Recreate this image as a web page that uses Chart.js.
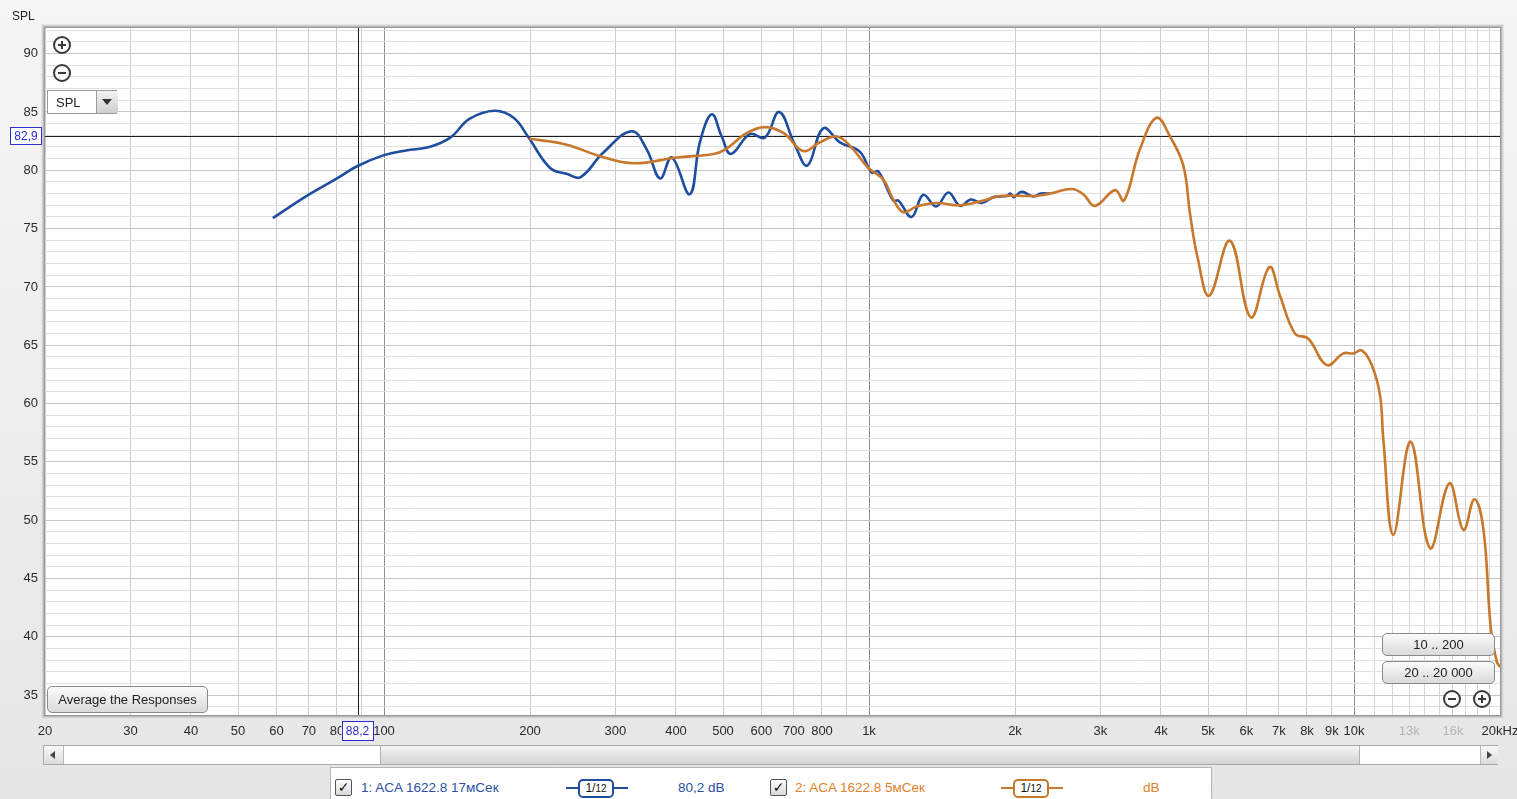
<!DOCTYPE html>
<html>
<head>
<meta charset="utf-8">
<script src="https://cdn.jsdelivr.net/npm/chart.js@4/dist/chart.umd.min.js"></script>
<style>
html,body{margin:0;padding:0;width:1517px;height:799px;overflow:hidden;background:linear-gradient(#f6f6f6,#e6e6e6);font-family:"Liberation Sans",Arial,sans-serif;}
#c{position:absolute;left:0;top:0;}
.abs{position:absolute;}
.rb{position:absolute;width:14px;height:14px;border:2px solid #3a3a3a;border-radius:50%;background:#fafafa;}
.rb .h{position:absolute;left:3px;top:6px;width:8px;height:2px;background:#3a3a3a;}
.rb .v{position:absolute;left:6px;top:3px;width:2px;height:8px;background:#3a3a3a;}
.btn{position:absolute;box-sizing:border-box;border:1px solid #8a8a8a;border-radius:5px;background:linear-gradient(#fbfbfb,#dadada);font-size:13px;color:#222;text-align:center;}
.cb{position:absolute;box-sizing:border-box;width:17px;height:17px;border:1px solid #555;border-radius:2px;background:linear-gradient(#fff,#d8d8d8);font-family:"DejaVu Sans";font-size:14px;font-weight:bold;line-height:15px;text-align:center;color:#111;}
.oct{position:absolute;height:18px;}
.oct .ln{position:absolute;top:8px;height:2px;}
.oct .bx{position:absolute;top:0;box-sizing:border-box;height:19px;border:2px solid;border-radius:5px;background:#fff;font-size:12px;line-height:15px;text-align:center;color:#111;}
.lg{position:absolute;top:780px;font-size:13.5px;}
</style>
</head>
<body>
<canvas id="c" width="1517" height="799"></canvas>

<div class="abs" style="left:12px;top:9px;font-size:12px;color:#222;">SPL</div>

<div class="rb" style="left:53px;top:36px"><i class="h"></i><i class="v"></i></div>
<div class="rb" style="left:53px;top:64px"><i class="h"></i></div>

<div class="abs" style="left:47px;top:90px;width:70px;height:24px;box-sizing:border-box;border:1px solid #9a9a9a;background:#fff;">
  <div class="abs" style="left:8px;top:4px;font-size:13px;color:#222;">SPL</div>
  <div class="abs" style="left:48px;top:0;width:21px;height:22px;background:linear-gradient(#f2f2f2,#cfcfcf);border-left:1px solid #9a9a9a;">
    <div class="abs" style="left:5px;top:8px;width:0;height:0;border-left:5px solid transparent;border-right:5px solid transparent;border-top:6px solid #333;"></div>
  </div>
</div>

<div class="btn" style="left:47px;top:686px;width:161px;height:27px;line-height:25px;">Average the Responses</div>
<div class="btn" style="left:1382px;top:633px;width:113px;height:23px;line-height:21px;">10 .. 200</div>
<div class="btn" style="left:1382px;top:661px;width:113px;height:23px;line-height:21px;">20 .. 20 000</div>
<div class="rb" style="left:1443px;top:690px"><i class="h"></i></div>
<div class="rb" style="left:1473px;top:690px"><i class="h"></i><i class="v"></i></div>

<!-- scrollbar -->
<div class="abs" style="left:43px;top:745px;width:1455px;height:20px;box-sizing:border-box;border:1px solid #a8a8a8;background:#fff;">
  <div class="abs" style="left:0;top:0;width:19px;height:18px;background:linear-gradient(#f8f8f8,#dcdcdc);border-right:1px solid #b8b8b8;">
    <div class="abs" style="left:6px;top:5px;width:0;height:0;border-top:4px solid transparent;border-bottom:4px solid transparent;border-right:5px solid #444;"></div>
  </div>
  <div class="abs" style="left:336px;top:0;width:978px;height:18px;background:linear-gradient(#f4f4f4,#d4d4d4);border-left:1px solid #b0b0b0;border-right:1px solid #b0b0b0;"></div>
  <div class="abs" style="left:1436px;top:0;width:17px;height:18px;background:linear-gradient(#f8f8f8,#dcdcdc);border-left:1px solid #b8b8b8;">
    <div class="abs" style="left:6px;top:5px;width:0;height:0;border-top:4px solid transparent;border-bottom:4px solid transparent;border-left:5px solid #444;"></div>
  </div>
</div>

<!-- legend panel -->
<div class="abs" style="left:330px;top:767px;width:882px;height:40px;box-sizing:border-box;border:1px solid #b4b4b4;background:#fff;"></div>
<div class="cb" style="left:335px;top:779px;">✓</div>
<div class="lg" style="left:361px;color:#2d4fa6;">1: ACA 1622.8 17мСек</div>
<div class="oct" style="left:566px;top:779px;width:62px;">
  <div class="ln" style="left:0;width:13px;background:#1f4ea0;"></div>
  <div class="bx" style="left:12px;width:36px;border-color:#1f4ea0;">1/<span style="font-size:10px">12</span></div>
  <div class="ln" style="left:47px;width:15px;background:#1f4ea0;"></div>
</div>
<div class="lg" style="left:678px;color:#2d4fa6;">80,2 dB</div>
<div class="cb" style="left:770px;top:779px;">✓</div>
<div class="lg" style="left:795px;color:#e0822c;">2: ACA 1622.8 5мСек</div>
<div class="oct" style="left:1001px;top:779px;width:62px;">
  <div class="ln" style="left:0;width:13px;background:#c8782c;"></div>
  <div class="bx" style="left:12px;width:36px;border-color:#c8782c;">1/<span style="font-size:10px">12</span></div>
  <div class="ln" style="left:47px;width:15px;background:#c8782c;"></div>
</div>
<div class="lg" style="left:1143px;color:#e0822c;">dB</div>

<script>
// ---- data ----
const blueFreq = [59, 69.3, 80, 88, 100, 111, 124, 137, 150, 169, 185, 198, 220, 238, 254, 283, 324, 348, 371, 392, 427, 448, 474, 497, 519, 568, 610, 653, 703, 746, 805, 871, 957, 1013, 1046, 1122, 1150, 1224, 1294, 1375, 1458, 1540, 1621, 1706, 1805, 1925, 1956, 1988, 2064, 2181, 2261, 2361];
const blueSpl  = [75.9, 77.8, 79.3, 80.35, 81.3, 81.7, 82.0, 82.8, 84.4, 85.1, 84.5, 82.9, 80.2, 79.7, 79.4, 81.5, 83.35, 81.8, 79.3, 81.1, 77.95, 82.4, 84.8, 82.9, 81.4, 83.1, 82.8, 85.0, 82.2, 80.4, 83.6, 82.4, 81.6, 79.8, 79.9, 77.4, 77.4, 76.0, 77.9, 76.9, 78.1, 76.95, 77.5, 77.2, 77.7, 77.8, 78.0, 77.7, 78.15, 77.75, 78.0, 78.0];

const orangeFreq = [199.4, 238, 279, 327, 401, 478, 506, 560, 610, 666, 732, 792, 858, 914, 997, 1071, 1122, 1177, 1254, 1379, 1540, 1721, 1862, 2181, 2361, 2618, 2765, 2925, 3215, 3356, 3619, 3918, 4175, 4447, 4590, 4760, 5030, 5550, 6125, 6690, 7037, 7556, 8052, 8788, 9509, 9971, 10376, 10880, 11316, 11491, 12050, 13088, 14345, 15726, 16807, 17707, 18478, 19140, 19690, 20000];
const orangeSpl  = [82.7, 82.2, 81.2, 80.6, 81.1, 81.4, 81.8, 83.2, 83.7, 83.2, 81.65, 82.4, 82.9, 82.1, 80.2, 79.2, 77.5, 76.4, 76.9, 77.2, 77.0, 77.4, 77.8, 77.8, 78.0, 78.4, 77.95, 76.95, 78.3, 77.4, 81.8, 84.5, 82.9, 80.4, 76.3, 72.5, 69.25, 73.96, 67.4, 71.7, 69.25, 66.0, 65.56, 63.3, 64.3, 64.3, 64.56, 63.3, 60.7, 57.0, 48.74, 56.73, 47.6, 53.16, 49.17, 51.8, 49.3, 40.8, 37.9, 37.4];

const xGridValues = [20,30,40,50,60,70,80,90,100,200,300,400,500,600,700,800,900,1000,2000,3000,4000,5000,6000,7000,8000,9000,10000,11000,12000,13000,14000,15000,16000,17000,18000,19000,20000];
const xLabelValues = [20,30,40,50,60,70,80,100,200,300,400,500,600,700,800,1000,2000,3000,4000,5000,6000,7000,8000,9000,10000,13000,16000,20000];
const xLabelTexts  = ['20','30','40','50','60','70','80','100','200','300','400','500','600','700','800','1k','2k','3k','4k','5k','6k','7k','8k','9k','10k','13k','16k','20kHz'];
const xGreyLabels  = [13000,16000];
const xDecadeLines = [100,1000,10000];
const yGridValues  = [34,35,36,37,38,39,40,41,42,43,44,45,46,47,48,49,50,51,52,53,54,55,56,57,58,59,60,61,62,63,64,65,66,67,68,69,70,71,72,73,74,75,76,77,78,79,80,81,82,83,84,85,86,87,88,89,90,91,92];
const yMin = 33.3, yMax = 92.2;
const cursorFreq = 88.2, cursorSpl = 82.9;
const cursorFreqText = '88,2', cursorSplText = '82,9';

const FONT = '"Liberation Sans", Arial, sans-serif';

const decor = {
  id: 'decor',
  beforeDraw(chart) {
    const {ctx, chartArea: a} = chart;
    ctx.save();
    ctx.fillStyle = '#ffffff';
    ctx.fillRect(a.left, a.top, a.right - a.left, a.bottom - a.top);
    ctx.restore();
  },
  beforeDatasetsDraw(chart) {
    const {ctx, chartArea: a, scales} = chart;
    const px = Math.round(scales.x.getPixelForValue(cursorFreq)) + 0.5;
    const py = Math.round(scales.y.getPixelForValue(cursorSpl)) + 0.5;
    ctx.save();
    ctx.strokeStyle = '#1e1e1e';
    ctx.lineWidth = 1;
    ctx.beginPath();
    ctx.moveTo(px, a.top); ctx.lineTo(px, a.bottom);
    ctx.moveTo(a.left, py); ctx.lineTo(a.right, py);
    ctx.stroke();
    ctx.restore();
  },
  afterDraw(chart) {
    const {ctx, chartArea: a, scales} = chart;
    ctx.save();
    const shades = ['#9a9a9a', '#b8b8b8', '#d2d2d2', '#e4e4e4'];
    shades.forEach((c, i) => {
      ctx.strokeStyle = c;
      ctx.lineWidth = 1;
      ctx.strokeRect(a.left - 0.5 - i, a.top - 0.5 - i, a.right - a.left + 1 + 2 * i, a.bottom - a.top + 1 + 2 * i);
    });
    const px = scales.x.getPixelForValue(cursorFreq);
    const py = scales.y.getPixelForValue(cursorSpl);
    ctx.font = '12px ' + FONT;
    ctx.textAlign = 'center';
    ctx.textBaseline = 'middle';
    ctx.fillStyle = '#ffffff';
    ctx.fillRect(10, py - 9, 32, 18);
    ctx.strokeStyle = '#2b2bd8';
    ctx.strokeRect(10.5, Math.round(py - 9) + 0.5, 31, 17);
    ctx.fillStyle = '#2b2bd8';
    ctx.fillText(cursorSplText, 26, py + 0.5);
    ctx.fillStyle = '#ffffff';
    ctx.fillRect(px - 16, a.bottom + 6, 32, 20);
    ctx.strokeStyle = '#2b2bd8';
    ctx.strokeRect(Math.round(px - 16) + 0.5, a.bottom + 6.5, 31, 19);
    ctx.fillStyle = '#2b2bd8';
    ctx.fillText(cursorFreqText, px, a.bottom + 16.5);
    ctx.restore();
  }
};

const toPts = (fs, vs) => fs.map((f, i) => ({x: f, y: vs[i]}));

new Chart(document.getElementById('c'), {
  type: 'line',
  data: {
    datasets: [
      {label: '2: ACA 1622.8 5мСек', data: toPts(orangeFreq, orangeSpl), borderColor: '#c8782c', borderWidth: 2.6, pointRadius: 0, tension: 0.4, fill: false},
      {label: '1: ACA 1622.8 17мСек', data: toPts(blueFreq, blueSpl), borderColor: '#1f4ea0', borderWidth: 2.6, pointRadius: 0, tension: 0.4, fill: false}
    ]
  },
  options: {
    responsive: false,
    animation: false,
    devicePixelRatio: 1,
    layout: {padding: {left: 0, top: 28, right: 17, bottom: 0}},
    plugins: {legend: {display: false}, tooltip: {enabled: false}},
    scales: {
      x: {
        type: 'logarithmic', min: 20, max: 20000,
        afterBuildTicks: s => { s.ticks = xGridValues.map(v => ({value: v})); },
        afterFit: s => { s.height = 84; s.paddingLeft = 0; s.paddingRight = 0; },
        border: {display: false},
        grid: {
          drawTicks: false, lineWidth: 1,
          color: c => xDecadeLines.includes(c.tick.value) ? '#8e8e8e' : (c.tick.value > 10000 ? '#d6d6d6' : '#cdcdcd')
        },
        ticks: {
          autoSkip: false, maxRotation: 0, minRotation: 0, padding: 9,
          font: {size: 13, family: FONT},
          color: c => xGreyLabels.includes(c.tick.value) ? '#b4b4b4' : '#2a2a2a',
          callback: v => { const i = xLabelValues.indexOf(v); return i >= 0 ? xLabelTexts[i] : ''; }
        }
      },
      y: {
        type: 'linear', min: yMin, max: yMax,
        afterBuildTicks: s => { s.ticks = yGridValues.map(v => ({value: v})); },
        afterFit: s => { s.width = 45; s.paddingTop = 0; s.paddingBottom = 0; },
        border: {display: false},
        grid: {
          drawTicks: false, lineWidth: 1,
          color: c => (c.tick.value % 5 === 0) ? '#c6c6c6' : '#e0e0e0'
        },
        ticks: {
          autoSkip: false, padding: 7,
          font: {size: 13, family: FONT},
          color: '#2a2a2a',
          callback: v => (v % 5 === 0) ? String(v) : ''
        }
      }
    }
  },
  plugins: [decor]
});
</script>
</body>
</html>
